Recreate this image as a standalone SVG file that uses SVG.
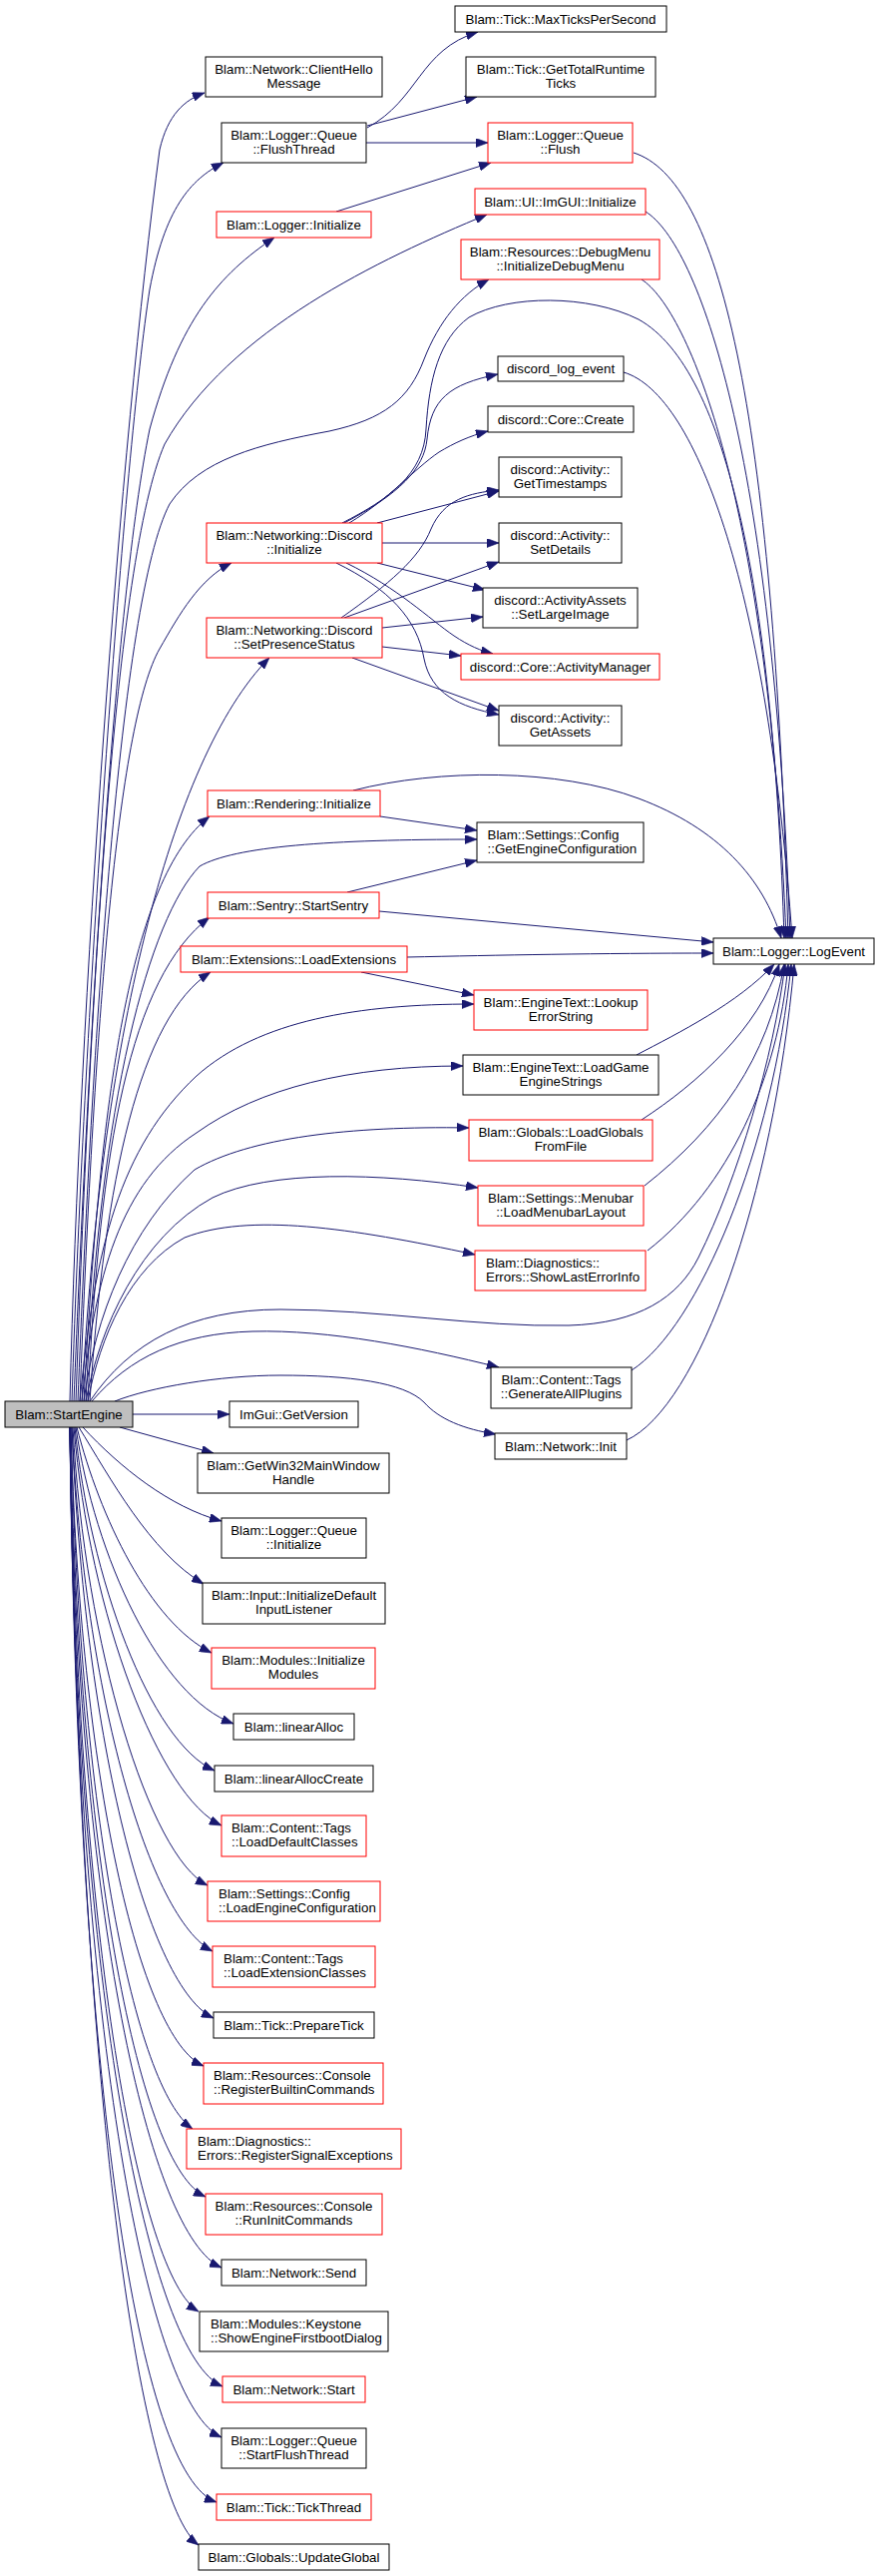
<svg xmlns="http://www.w3.org/2000/svg" width="881" height="2581" viewBox="0 0 881 2581">
<defs>
<marker id="ah" markerWidth="12" markerHeight="9" refX="12" refY="4.5" orient="auto" markerUnits="userSpaceOnUse"><path d="M0,0 L12,4.5 L0,9 z" fill="#191970" stroke="#191970" stroke-width="0.6"/></marker>
</defs>
<style>
.n rect{fill:#ffffff;stroke:#000000;stroke-width:1}
.r rect{fill:#ffffff;stroke:#ff0000;stroke-width:1}
.g rect{fill:#bfbfbf;stroke:#000000;stroke-width:1}
text{font-family:"Liberation Sans",Arial,Helvetica,sans-serif;font-size:13.33px;fill:#000000}
.c{text-anchor:middle}
.l{text-anchor:start}
#edges path{fill:none;stroke:#191970;stroke-width:1;marker-end:url(#ah)}
</style>
<rect x="0" y="0" width="881" height="2581" fill="#ffffff"/>
<g id="edges">
<path d="M70,1404 C80,1000 120,450 160,150 C168,115 185,100 205,93"/>
<path d="M72,1404 C85,1000 125,450 150,290 C165,210 190,180 224,163"/>
<path d="M74,1404 C88,1050 115,600 150,430 C180,320 220,275 275,238"/>
<path d="M76,1404 C90,1000 115,560 165,445 C230,330 380,260 488,215"/>
<path d="M78,1404 C92,1050 120,600 170,505 C200,460 260,445 330,432 C385,420 410,400 425,360 C440,322 462,295 490,280"/>
<path d="M80,1404 C95,1000 120,720 160,650 C180,615 200,580 232,564"/>
<path d="M82,1404 C100,1050 170,760 270,659"/>
<path d="M84,1404 C100,1100 130,880 210,818"/>
<path d="M86,1404 C100,1100 150,920 200,868 C235,848 330,841 478,841"/>
<path d="M88,1404 C100,1150 130,980 210,919"/>
<path d="M90,1404 C105,1180 140,1020 211,974"/>
<path d="M80,1404 C95,1250 120,1150 197,1078 C260,1022 360,1006 475,1006"/>
<path d="M82,1404 C95,1280 120,1185 197,1135 C260,1090 350,1068 464,1068"/>
<path d="M84,1404 C95,1320 130,1230 195,1172 C250,1140 350,1128 470,1130"/>
<path d="M86,1404 C100,1330 140,1240 213,1200 C270,1172 380,1175 479,1190"/>
<path d="M88,1404 C100,1340 130,1270 185,1240 C250,1215 350,1230 476,1257"/>
<path d="M90,1404 C130,1345 190,1312 281,1312 C380,1312 480,1330 570,1328 C640,1326 680,1300 700,1260 C740,1180 775,1060 787,966"/>
<path d="M92,1404 C130,1360 180,1336 253,1334 C330,1332 420,1350 500,1370"/>
<path d="M115,1404 C150,1390 220,1378 281,1378 C350,1378 405,1385 425,1405 C440,1422 465,1432 497,1437"/>
<path d="M133,1417 L230,1417"/>
<path d="M120,1430 L214,1456"/>
<path d="M83,1430 C120,1470 170,1510 222,1524"/>
<path d="M79,1430 C110,1480 150,1555 204,1587"/>
<path d="M77,1430 C100,1520 150,1625 212,1656"/>
<path d="M76,1430 C95,1560 160,1700 234,1727"/>
<path d="M75,1430 C90,1580 150,1745 215,1774"/>
<path d="M74,1430 C90,1620 160,1800 222,1829"/>
<path d="M73,1430 C85,1650 150,1860 208,1889"/>
<path d="M72,1430 C85,1700 150,1922 213,1955"/>
<path d="M72,1430 C85,1750 150,1992 214,2022"/>
<path d="M71,1430 C80,1780 140,2042 204,2070"/>
<path d="M71,1430 C80,1820 135,2092 193,2133"/>
<path d="M70,1430 C80,1870 140,2170 206,2201"/>
<path d="M70,1430 C78,1920 150,2240 222,2272"/>
<path d="M70,1430 C78,1950 140,2280 199,2316"/>
<path d="M70,1430 C76,2000 150,2360 223,2391"/>
<path d="M70,1430 C76,2050 150,2410 222,2442"/>
<path d="M70,1430 C78,2100 140,2480 217,2507"/>
<path d="M70,1430 C80,2100 140,2505 199,2550"/>
<path d="M368,128 C420,100 420,50 479,32"/>
<path d="M368,126 L478,97"/>
<path d="M367,143 L489,143"/>
<path d="M337,212 L492,163"/>
<path d="M635,153 C720,180 775,400 790,940"/>
<path d="M647,212 C700,245 775,450 792,940"/>
<path d="M643,280 C690,310 770,500 788,940"/>
<path d="M343,524 C390,500 425,475 427,430 C430,380 440,340 470,318 C510,295 590,295 640,320 C730,370 775,600 786,940"/>
<path d="M345,524 C400,495 425,470 428,440 C432,400 450,385 499,375"/>
<path d="M350,524 C390,500 415,470 440,453 C455,444 470,437 489,432"/>
<path d="M378,524 L500,492"/>
<path d="M383,544 L500,544"/>
<path d="M378,564 L486,591"/>
<path d="M347,564 C400,590 430,620 455,637 C470,647 482,652 494,655"/>
<path d="M337,564 C390,590 418,620 425,660 C432,695 460,708 500,716"/>
<path d="M342,619 C390,585 420,560 432,530 C445,500 470,494 500,491"/>
<path d="M345,619 L500,563"/>
<path d="M383,629 L484,618"/>
<path d="M383,648 L462,657"/>
<path d="M353,659 L500,712"/>
<path d="M625,373 C700,395 770,600 794,940"/>
<path d="M354,792 C440,770 560,770 640,800 C720,830 765,880 783,940"/>
<path d="M381,818 L478,832"/>
<path d="M348,894 L478,862"/>
<path d="M380,913 L715,944"/>
<path d="M408,959 C500,957 600,955 715,955"/>
<path d="M362,974 L475,997"/>
<path d="M638,1057 C680,1035 740,1005 776,966"/>
<path d="M643,1122 C700,1085 760,1030 781,966"/>
<path d="M646,1188 C720,1130 770,1060 786,966"/>
<path d="M649,1253 C730,1190 780,1080 790,966"/>
<path d="M633,1373 C700,1330 775,1150 793,966"/>
<path d="M628,1443 C700,1410 775,1200 796,966"/>
</g>
<g id="n_maxticks" class="n"><rect x="456" y="6" width="212" height="26"/><text class="c" x="562" y="23.5">Blam::Tick::MaxTicksPerSecond</text></g>
<g id="n_totalticks" class="n"><rect x="467" y="57" width="190" height="40"/><text class="c" x="562" y="74">Blam::Tick::GetTotalRuntime</text><text class="c" x="562" y="88">Ticks</text></g>
<g id="n_flush" class="r"><rect x="489" y="123" width="145" height="40"/><text class="c" x="561.5" y="140">Blam::Logger::Queue</text><text class="c" x="561.5" y="154">::Flush</text></g>
<g id="n_imgui" class="r"><rect x="476" y="189" width="171" height="26"/><text class="c" x="561.5" y="206.5">Blam::UI::ImGUI::Initialize</text></g>
<g id="n_debugmenu" class="r"><rect x="462" y="240" width="199" height="40"/><text class="c" x="561.5" y="257">Blam::Resources::DebugMenu</text><text class="c" x="561.5" y="271">::InitializeDebugMenu</text></g>
<g id="n_discord_log_event" class="n"><rect x="499" y="357" width="126" height="25"/><text class="c" x="562" y="374">discord_log_event</text></g>
<g id="n_core_create" class="n"><rect x="489" y="407" width="146" height="26"/><text class="c" x="562" y="424.5">discord::Core::Create</text></g>
<g id="n_gettimestamps" class="n"><rect x="500" y="458" width="123" height="40"/><text class="c" x="561.5" y="475">discord::Activity::</text><text class="c" x="561.5" y="489">GetTimestamps</text></g>
<g id="n_setdetails" class="n"><rect x="500" y="524" width="123" height="40"/><text class="c" x="561.5" y="541">discord::Activity::</text><text class="c" x="561.5" y="555">SetDetails</text></g>
<g id="n_setlargeimage" class="n"><rect x="484" y="589" width="155" height="40"/><text class="c" x="561.5" y="606">discord::ActivityAssets</text><text class="c" x="561.5" y="620">::SetLargeImage</text></g>
<g id="n_activitymanager" class="r"><rect x="462" y="655" width="199" height="26"/><text class="c" x="561.5" y="672.5">discord::Core::ActivityManager</text></g>
<g id="n_getassets" class="n"><rect x="500" y="707" width="123" height="40"/><text class="c" x="561.5" y="724">discord::Activity::</text><text class="c" x="561.5" y="738">GetAssets</text></g>
<g id="n_getengineconfig" class="n"><rect x="478" y="824" width="167" height="40"/><text class="l" x="488.5" y="841">Blam::Settings::Config</text><text class="l" x="488.5" y="855">::GetEngineConfiguration</text></g>
<g id="n_lookuperror" class="r"><rect x="475" y="992" width="174" height="40"/><text class="c" x="562" y="1009">Blam::EngineText::Lookup</text><text class="c" x="562" y="1023">ErrorString</text></g>
<g id="n_loadgamestrings" class="n"><rect x="464" y="1057" width="196" height="40"/><text class="c" x="562" y="1074">Blam::EngineText::LoadGame</text><text class="c" x="562" y="1088">EngineStrings</text></g>
<g id="n_loadglobals" class="r"><rect x="470" y="1122" width="184" height="41"/><text class="c" x="562" y="1139">Blam::Globals::LoadGlobals</text><text class="c" x="562" y="1153">FromFile</text></g>
<g id="n_menubar" class="r"><rect x="479" y="1188" width="166" height="40"/><text class="c" x="562" y="1205">Blam::Settings::Menubar</text><text class="c" x="562" y="1219">::LoadMenubarLayout</text></g>
<g id="n_showlasterror" class="r"><rect x="476" y="1253" width="171" height="40"/><text class="l" x="487" y="1270">Blam::Diagnostics::</text><text class="l" x="487" y="1284">Errors::ShowLastErrorInfo</text></g>
<g id="n_genplugins" class="n"><rect x="492" y="1370" width="141" height="41"/><text class="c" x="562.5" y="1387">Blam::Content::Tags</text><text class="c" x="562.5" y="1401">::GenerateAllPlugins</text></g>
<g id="n_netinit" class="n"><rect x="496" y="1436" width="132" height="26"/><text class="c" x="562" y="1453.5">Blam::Network::Init</text></g>
<g id="n_logevent" class="n"><rect x="715" y="940" width="161" height="26"/><text class="c" x="795.5" y="957.5">Blam::Logger::LogEvent</text></g>
<g id="n_clienthello" class="n"><rect x="206" y="57" width="177" height="40"/><text class="c" x="294.5" y="74">Blam::Network::ClientHello</text><text class="c" x="294.5" y="88">Message</text></g>
<g id="n_flushthread" class="n"><rect x="222" y="123" width="145" height="40"/><text class="c" x="294.5" y="140">Blam::Logger::Queue</text><text class="c" x="294.5" y="154">::FlushThread</text></g>
<g id="n_loggerinit" class="r"><rect x="217" y="212" width="155" height="26"/><text class="c" x="294.5" y="229.5">Blam::Logger::Initialize</text></g>
<g id="n_discordinit" class="r"><rect x="207" y="524" width="176" height="40"/><text class="c" x="295" y="541">Blam::Networking::Discord</text><text class="c" x="295" y="555">::Initialize</text></g>
<g id="n_presence" class="r"><rect x="207" y="619" width="176" height="40"/><text class="c" x="295" y="636">Blam::Networking::Discord</text><text class="c" x="295" y="650">::SetPresenceStatus</text></g>
<g id="n_renderinit" class="r"><rect x="208" y="792" width="173" height="26"/><text class="c" x="294.5" y="809.5">Blam::Rendering::Initialize</text></g>
<g id="n_sentry" class="r"><rect x="208" y="894" width="172" height="26"/><text class="c" x="294" y="911.5">Blam::Sentry::StartSentry</text></g>
<g id="n_loadext" class="r"><rect x="181" y="948" width="227" height="26"/><text class="c" x="294.5" y="965.5">Blam::Extensions::LoadExtensions</text></g>
<g id="n_startengine" class="g"><rect x="5" y="1404" width="128" height="26"/><text class="c" x="69" y="1421.5">Blam::StartEngine</text></g>
<g id="n_getversion" class="n"><rect x="230" y="1404" width="129" height="26"/><text class="c" x="294.5" y="1421.5">ImGui::GetVersion</text></g>
<g id="n_win32" class="n"><rect x="198" y="1456" width="192" height="40"/><text class="c" x="294" y="1473">Blam::GetWin32MainWindow</text><text class="c" x="294" y="1487">Handle</text></g>
<g id="n_queueinit" class="n"><rect x="222" y="1521" width="145" height="40"/><text class="c" x="294.5" y="1538">Blam::Logger::Queue</text><text class="c" x="294.5" y="1552">::Initialize</text></g>
<g id="n_inputlistener" class="n"><rect x="203" y="1586" width="183" height="41"/><text class="c" x="294.5" y="1603">Blam::Input::InitializeDefault</text><text class="c" x="294.5" y="1617">InputListener</text></g>
<g id="n_initmodules" class="r"><rect x="212" y="1651" width="164" height="41"/><text class="c" x="294" y="1668">Blam::Modules::Initialize</text><text class="c" x="294" y="1682">Modules</text></g>
<g id="n_linearalloc" class="n"><rect x="234" y="1717" width="121" height="26"/><text class="c" x="294.5" y="1734.5">Blam::linearAlloc</text></g>
<g id="n_linearalloccreate" class="n"><rect x="215" y="1769" width="159" height="26"/><text class="c" x="294.5" y="1786.5">Blam::linearAllocCreate</text></g>
<g id="n_loaddefault" class="r"><rect x="222" y="1819" width="145" height="41"/><text class="l" x="232" y="1836">Blam::Content::Tags</text><text class="l" x="232" y="1850">::LoadDefaultClasses</text></g>
<g id="n_loadengcfg" class="r"><rect x="208" y="1885" width="173" height="40"/><text class="l" x="219" y="1902">Blam::Settings::Config</text><text class="l" x="219" y="1916">::LoadEngineConfiguration</text></g>
<g id="n_loadextcls" class="r"><rect x="213" y="1950" width="163" height="41"/><text class="l" x="224" y="1967">Blam::Content::Tags</text><text class="l" x="224" y="1981">::LoadExtensionClasses</text></g>
<g id="n_preparetick" class="n"><rect x="214" y="2016" width="161" height="26"/><text class="c" x="294.5" y="2033.5">Blam::Tick::PrepareTick</text></g>
<g id="n_regbuiltin" class="r"><rect x="204" y="2067" width="180" height="41"/><text class="l" x="214" y="2084">Blam::Resources::Console</text><text class="l" x="214" y="2098">::RegisterBuiltinCommands</text></g>
<g id="n_regsignal" class="r"><rect x="187" y="2133" width="215" height="40"/><text class="l" x="198" y="2150">Blam::Diagnostics::</text><text class="l" x="198" y="2164">Errors::RegisterSignalExceptions</text></g>
<g id="n_runinit" class="r"><rect x="206" y="2198" width="177" height="41"/><text class="c" x="294.5" y="2215">Blam::Resources::Console</text><text class="c" x="294.5" y="2229">::RunInitCommands</text></g>
<g id="n_netsend" class="n"><rect x="222" y="2264" width="145" height="26"/><text class="c" x="294.5" y="2281.5">Blam::Network::Send</text></g>
<g id="n_firstboot" class="n"><rect x="200" y="2316" width="189" height="40"/><text class="l" x="211" y="2333">Blam::Modules::Keystone</text><text class="l" x="211" y="2347">::ShowEngineFirstbootDialog</text></g>
<g id="n_netstart" class="r"><rect x="223" y="2381" width="143" height="26"/><text class="c" x="294.5" y="2398.5">Blam::Network::Start</text></g>
<g id="n_startflush" class="n"><rect x="222" y="2433" width="145" height="40"/><text class="c" x="294.5" y="2450">Blam::Logger::Queue</text><text class="c" x="294.5" y="2464">::StartFlushThread</text></g>
<g id="n_tickthread" class="r"><rect x="217" y="2499" width="155" height="26"/><text class="c" x="294.5" y="2516.5">Blam::Tick::TickThread</text></g>
<g id="n_updateglobal" class="n"><rect x="199" y="2549" width="191" height="26"/><text class="c" x="294.5" y="2566.5">Blam::Globals::UpdateGlobal</text></g>
</svg>
